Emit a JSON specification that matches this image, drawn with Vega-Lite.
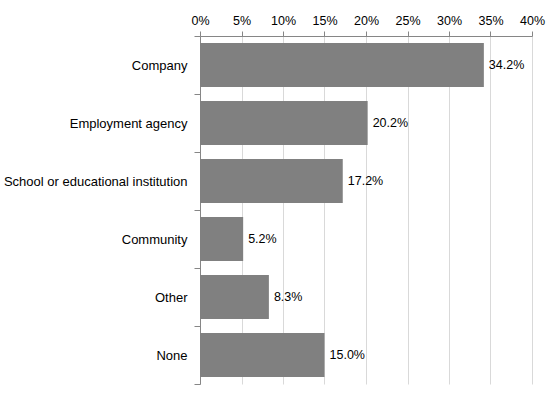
{
  "$schema": "https://vega.github.io/schema/vega-lite/v6.json",
  "autosize": "none",
  "width": 332,
  "height": 348,
  "padding": {"left": 200, "top": 36, "right": 21, "bottom": 12},
  "background": "white",
  "data": {"values": [
    {"category": "Company", "share": 0.342},
    {"category": "Employment agency", "share": 0.202},
    {"category": "School or educational institution", "share": 0.172},
    {"category": "Community", "share": 0.052},
    {"category": "Other", "share": 0.083},
    {"category": "None", "share": 0.150}
  ]},
  "config": {
    "font": "Liberation Sans",
    "view": {"stroke": null}
  },
  "encoding": {
    "y": {
      "field": "category", "type": "nominal", "sort": null,
      "scale": {"paddingInner": 0, "paddingOuter": 0},
      "axis": {
        "title": null, "tickBand": "extent", "grid": false,
        "domainColor": "#868686", "tickColor": "#868686", "tickSize": 6,
        "labelFont": "Liberation Sans", "labelFontSize": 13, "labelColor": "#000000",
        "labelPadding": 7, "labelLimit": 300
      }
    },
    "x": {
      "field": "share", "type": "quantitative",
      "scale": {"domain": [0, 0.4], "nice": false},
      "axis": {
        "orient": "top", "title": null, "format": ".0%", "values": [0, 0.05, 0.1, 0.15, 0.2, 0.25, 0.3, 0.35, 0.4],
        "grid": true, "gridColor": "#d9d9d9", "gridWidth": 1,
        "domainColor": "#868686", "tickColor": "#868686", "tickSize": 5,
        "labelFont": "Liberation Sans", "labelFontSize": 12.5, "labelColor": "#000000",
        "labelPadding": 4, "labelFlush": false
      }
    }
  },
  "layer": [
    {"mark": {"type": "bar", "color": "#808080", "height": {"band": 0.76}}},
    {"mark": {"type": "text", "align": "left", "dx": 5, "fontSize": 12.5, "color": "#000000", "font": "Liberation Sans"},
     "encoding": {"text": {"field": "share", "type": "quantitative", "format": ".1%"}}}
  ]
}
